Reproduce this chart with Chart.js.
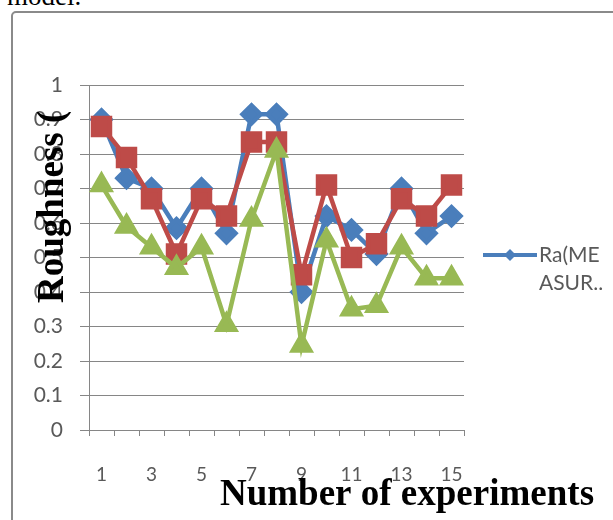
<!DOCTYPE html>
<html>
<head>
<meta charset="utf-8">
<script src="https://cdn.jsdelivr.net/npm/chart.js@4/dist/chart.umd.min.js"></script>
<style>
  html, body { margin: 0; padding: 0; background: #fff; overflow: hidden; }
  #pagina { position: relative; width: 613px; height: 520px; overflow: hidden; }
  #textoPrevio {
    position: absolute; left: 7px; top: -17px;
    font: 27px "Liberation Serif", serif; line-height: 27px; color: #000;
  }
  #marco {
    position: absolute; left: 11px; top: 11px; width: 800px; height: 800px;
    border: 2px solid #8a8a8a; border-radius: 5px;
  }
  #grafico { position: absolute; left: 0; top: 0; }
</style>
</head>
<body>
<div id="pagina">
  <div id="textoPrevio">model.</div>
  <div id="marco"></div>
  <canvas id="grafico" width="613" height="520"></canvas>
</div>
<script>
const experimentos = ["1", "2", "3", "4", "5", "6", "7", "8", "9", "10", "11", "12", "13", "14", "15"];

const raMedido = [0.90, 0.73, 0.70, 0.585, 0.70, 0.57, 0.915, 0.915, 0.40, 0.62, 0.58, 0.51, 0.70, 0.57, 0.62];
const raSerie2 = [0.88, 0.79, 0.67, 0.51, 0.67, 0.62, 0.835, 0.835, 0.45, 0.71, 0.50, 0.54, 0.67, 0.62, 0.71];
const raSerie3 = [0.71, 0.59, 0.53, 0.47, 0.53, 0.305, 0.61, 0.81, 0.245, 0.55, 0.35, 0.36, 0.53, 0.44, 0.44];

const nombresSeries = ["Ra(MEASURED)", "Ra(PREDICTED)", "Ra(MODEL)"];
const lineasLeyenda = ["Ra(ME", "ASUR.."];

const tituloY = "Roughness (";
const tituloX = "Number of experiments";

const azul = "#4a7ebb";
const rojo = "#be4b48";
const verde = "#98b954";
const gris = "#868686";
const textoGris = "#595959";

// titulos y leyenda dibujados a mano, como en la figura original
const extras = {
    id: "extras",
    afterDraw(chart) {
        const ctx = chart.ctx;
        ctx.save();

        // titulo eje Y (rotado)
        ctx.save();
        ctx.translate(63, 303);
        ctx.rotate(-Math.PI / 2);
        ctx.font = "bold 37px 'Liberation Serif'";
        ctx.fillStyle = "#000";
        ctx.textAlign = "left";
        ctx.textBaseline = "alphabetic";
        ctx.fillText(tituloY, 0, 0);
        ctx.restore();

        // titulo eje X
        ctx.font = "bold 37px 'Liberation Serif'";
        ctx.fillStyle = "#000";
        ctx.textAlign = "left";
        ctx.textBaseline = "alphabetic";
        ctx.fillText(tituloX, 220, 505);

        // leyenda (solo primera serie visible)
        ctx.strokeStyle = azul;
        ctx.lineWidth = 4;
        ctx.beginPath();
        ctx.moveTo(483, 255);
        ctx.lineTo(537, 255);
        ctx.stroke();
        ctx.fillStyle = azul;
        ctx.beginPath();
        ctx.moveTo(510, 249);
        ctx.lineTo(516, 255);
        ctx.lineTo(510, 261);
        ctx.lineTo(504, 255);
        ctx.closePath();
        ctx.fill();

        ctx.font = "21px Lato";
        ctx.fillStyle = textoGris;
        ctx.textBaseline = "middle";
        lineasLeyenda.forEach((linea, i) => ctx.fillText(linea, 539, 255 + i * 28));

        ctx.restore();
    },
};

const dataGrafico = {
    labels: experimentos,
    datasets: [
        {
            label: nombresSeries[0],
            data: raMedido,
            borderColor: azul,
            backgroundColor: azul,
            pointStyle: "rectRot",
            pointRadius: 9,
            borderWidth: 4.5,
            order: 3,
        },
        {
            label: nombresSeries[1],
            data: raSerie2,
            borderColor: rojo,
            backgroundColor: rojo,
            pointStyle: "rect",
            pointRadius: 12,
            borderWidth: 4.5,
            order: 2,
        },
        {
            label: nombresSeries[2],
            data: raSerie3,
            borderColor: verde,
            backgroundColor: verde,
            pointStyle: "triangle",
            pointRadius: 10,
            borderWidth: 4.5,
            order: 1,
        },
    ],
};

const configGrafico = {
    type: "line",
    data: dataGrafico,
    options: {
        responsive: false,
        animation: false,
        layout: {
            padding: { top: 85, right: 149, left: 0, bottom: 0 },
        },
        plugins: {
            legend: { display: false },
            tooltip: { enabled: false },
        },
        elements: {
            line: { tension: 0 },
            point: { borderWidth: 1 },
        },
        scales: {
            x: {
                offset: true,
                afterFit: (scale) => { scale.height = 90; },
                grid: {
                    display: true,
                    offset: true,
                    drawOnChartArea: false,
                    drawTicks: true,
                    tickLength: 6,
                    color: gris,
                },
                border: { color: gris, width: 1 },
                ticks: {
                    autoSkip: false,
                    maxRotation: 0,
                    padding: 27,
                    color: textoGris,
                    font: { size: 19, family: "Lato" },
                    callback: (valor, i) => (i % 2 === 0 ? experimentos[i] : ""),
                },
            },
            y: {
                min: 0,
                max: 1,
                afterFit: (scale) => { scale.width = 89; },
                grid: {
                    color: gris,
                    drawTicks: true,
                    tickLength: 9,
                },
                border: { color: gris, width: 1 },
                ticks: {
                    stepSize: 0.1,
                    padding: 17,
                    color: textoGris,
                    font: { size: 21, family: "Lato" },
                    callback: (valor) => String(+valor.toFixed(1)),
                },
            },
        },
    },
    plugins: [extras],
};

const grafico = new Chart(document.getElementById("grafico"), configGrafico);
</script>
</body>
</html>
